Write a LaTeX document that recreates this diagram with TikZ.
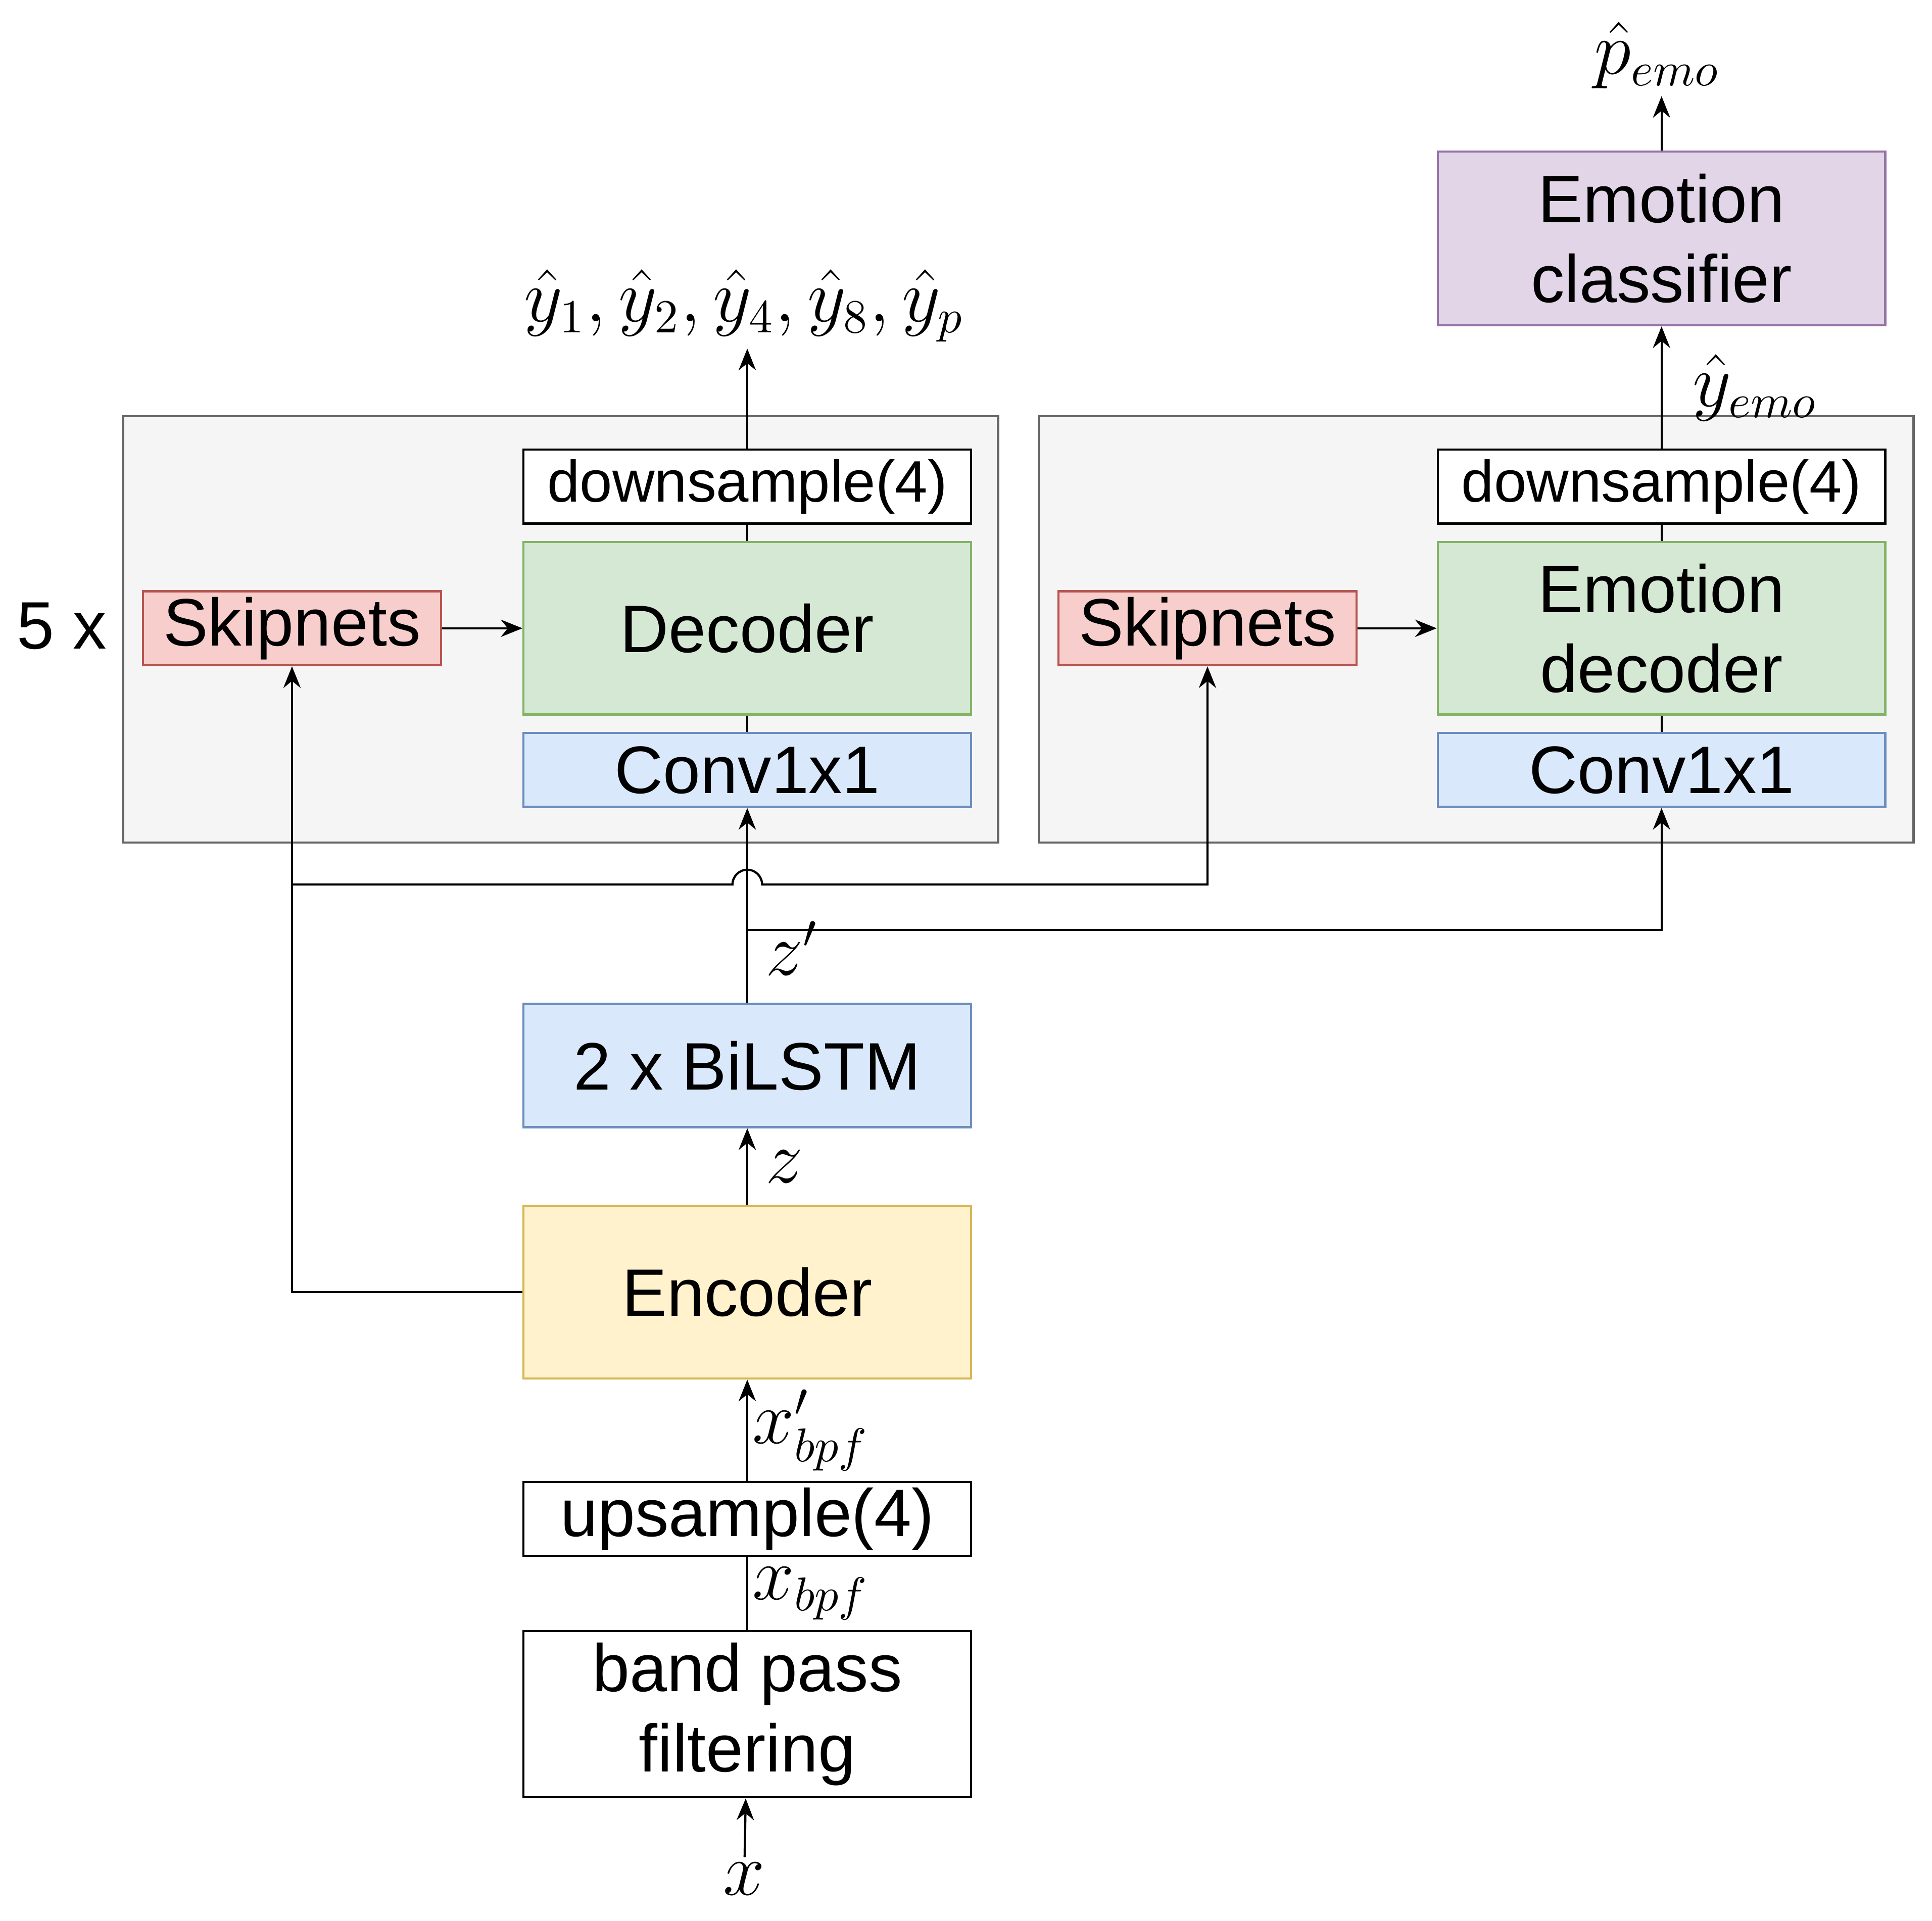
\documentclass[tikz,border=0pt]{standalone}
\usepackage{fontspec}
\setmainfont{Liberation Sans}
\usetikzlibrary{positioning,arrows.meta}
\definecolor{grp}{HTML}{F5F5F5}
\definecolor{grpD}{HTML}{666666}
\definecolor{blu}{HTML}{DAE8FC}
\definecolor{bluD}{HTML}{6C8EBF}
\definecolor{grn}{HTML}{D5E8D4}
\definecolor{grnD}{HTML}{82B366}
\definecolor{rd}{HTML}{F8CECC}
\definecolor{rdD}{HTML}{B85450}
\definecolor{yel}{HTML}{FFF2CC}
\definecolor{yelD}{HTML}{D6B656}
\definecolor{pur}{HTML}{E1D5E7}
\definecolor{purD}{HTML}{9673A6}

\begin{document}
\begin{tikzpicture}[
	x=0.01cm,y=-0.01cm,
	font=\fontsize{15.5}{17}\selectfont,
	line width=0.5pt,
	>={Stealth[length=5pt,width=4pt]},
	blk/.style={
		draw,
		minimum width=3.63cm,
		inner sep=0pt,
		align=center
	},
	wht/.style={blk, fill=white, minimum height=0.6cm},
	conv/.style={blk, fill=blu, draw=bluD, minimum height=0.6cm},
	dec/.style={blk, fill=grn, draw=grnD, minimum height=1.4cm, font=\fontsize{15.5}{18.5}\selectfont},
	skip/.style={blk, fill=rd, draw=rdD, minimum width=2.42cm, minimum height=0.6cm},
	lbl/.style={inner sep=1pt, font=\fontsize{16}{18}\selectfont}
	]
	\useasboundingbox (0,0) rectangle (1568,1559);
	% two stacks
	\draw[fill=grp, draw=grpD] (100,338) rectangle (810,684);
	\draw[fill=grp, draw=grpD] (843,338) rectangle (1553,684);
	\node at (50,508) (rep) {5 x};
	
	% left stack
	\node[wht, font=\fontsize{13.5}{16}\selectfont] at (606.5,395) (dsL) {downsample(4)};
	\node[dec] at (606.5,510) (decL) {Decoder};
	\node[conv] at (606.5,625) (convL) {Conv1x1};
	\node[skip] at (237,510) (skL) {Skipnets};
	
	% right stack
	\node[wht, font=\fontsize{13.5}{16}\selectfont] at (1348.5,395) (dsR) {downsample(4)};
	\node[dec] at (1348.5,510) (decR) {Emotion\\decoder};
	\node[conv] at (1348.5,625) (convR) {Conv1x1};
	\node[skip] at (980,510) (skR) {Skipnets};
	\node[blk, fill=pur, draw=purD, minimum height=1.41cm, font=\fontsize{15.5}{18.5}\selectfont] at (1348.5,193.5) (cls) {Emotion\\classifier};
	
	% encoder path
	\node[blk, fill=blu, draw=bluD, minimum height=1cm] at (606.5,865) (lstm) {2 x BiLSTM};
	\node[blk, fill=yel, draw=yelD, minimum height=1.4cm] at (606.5,1049) (enc) {Encoder};
	\node[wht] at (606.5,1233) (up) {upsample(4)};
	\node[blk, fill=white, minimum height=1.35cm, font=\fontsize{15.5}{18.5}\selectfont] at (606.5,1391.5) (bpf) {band pass\\filtering};
	\node[lbl] at (604,1525) (x) {$x$};
	\node[lbl] at (604,248) (yhat) {$\hat{y}_1, \hat{y}_2, \hat{y}_4, \hat{y}_8, \hat{y}_p$};
	\node[lbl] at (1345,45) (pemo) {$\hat{p}_{emo}$};
	\coordinate (yTop) at (606.5,283);
	\coordinate (pTop) at (1348.5,78);
	\coordinate (zSplit) at (606.5,755);
	\coordinate (hopL) at (594.5,718);
	\coordinate (skBase) at (237,718);
	
	% connectors
	\draw[->] (x) -- (bpf);
	\draw (bpf) -- node[right, lbl] {$x_{bpf}$} (up);
	\draw[->] (up) -- node[right, lbl] {$x'_{bpf}$} (enc);
	\draw[->] (enc) -- node[right, lbl, xshift=3pt] {$z$} (lstm);
	\draw[->] (lstm) -- node[right, lbl, pos=0.28, xshift=3pt] {$z'$} (convL);
	\draw (convL) -- (decL) (decL) -- (dsL);
	\draw (convR) -- (decR) (decR) -- (dsR);
	\draw[->] (dsL) -- (yTop);
	\draw[->] (dsR) -- node[right, lbl, xshift=6pt] {$\hat{y}_{emo}$} (cls);
	\draw[->] (cls) -- (pTop);
	\draw[->] (skL) -- (decL);
	\draw[->] (skR) -- (decR);
	\draw[->] (zSplit) -| (convR);
	\draw[->] (enc.west) -| (skL);
	\draw[->] (skBase) -- (hopL) arc[start angle=180, end angle=0, radius=0.12cm] -| (skR);
\end{tikzpicture}
\end{document}
